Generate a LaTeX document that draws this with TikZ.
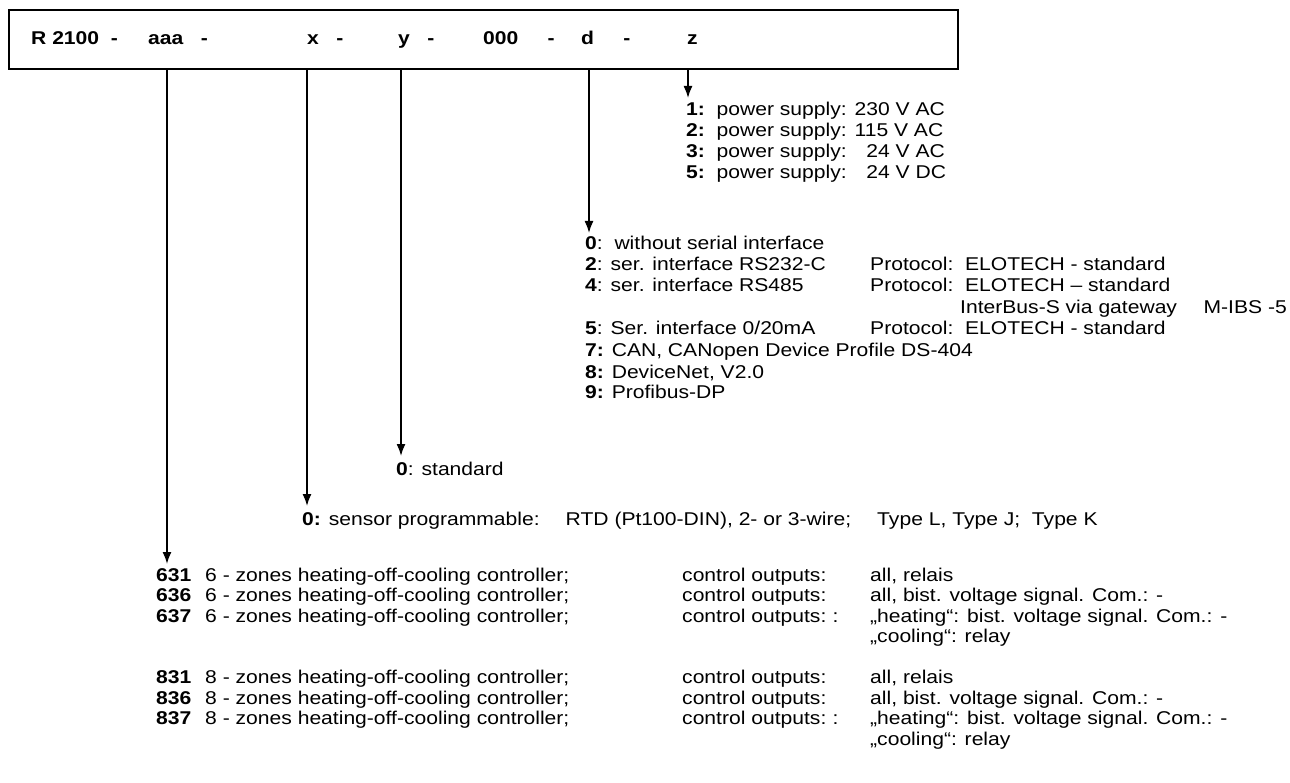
\documentclass[tikz,border=0pt]{standalone}
\usepackage{fontspec}
\setmainfont{Liberation Sans}[FakeStretch=1.14]
\usetikzlibrary{arrows.meta,positioning}
\begin{document}
\begin{tikzpicture}[x=1pt,y=-1pt,font=\fontsize{18.5}{21}\selectfont,
txt/.style={anchor=base west,inner sep=0pt},
code/.style={anchor=base west,inner sep=0pt,font=\fontsize{18.5}{21}\selectfont\bfseries},
arrow/.style={-{Latex[length=12pt,width=9pt]},line width=1.6pt}]
\useasboundingbox (0,0) rectangle (1290,783);
% type code box
\node[draw,line width=2pt,minimum width=949pt,minimum height=59pt,anchor=north west,inner sep=0pt] (codebox) at (8,9) {};
\node[code] (kR) at (31,45) {R 2100\ \ -};
\node[code] (kaaa) at (148,45) {aaa\ \ \ -};
\node[code] (kx) at (307,45) {x\ \ \ -};
\node[code] (ky) at (398,45) {y\ \ \ -};
\node[code] (k000) at (483,45) {000\ \ \ \ \ -};
\node[code] (kd) at (581,45) {d\ \ \ \ \ -};
\node[code] (kz) at (687,45) {z};
% z: power supply
\node[txt] (z1) at (686,116) {\textbf{1:}\ \ power supply: 230 V AC};
\node[txt] (z2) at (686,137) {\textbf{2:}\ \ power supply: 115 V AC};
\node[txt] (z3) at (686,158) {\textbf{3:}\ \ power supply: \phantom{2}24 V AC};
\node[txt] (z5) at (686,179) {\textbf{5:}\ \ power supply: \phantom{2}24 V DC};
% d: serial interface
\node[txt] (d0) at (585,250) {\textbf{0}:\ \ without serial interface};
\node[txt] (d2) at (585,271) {\textbf{2}: ser. interface RS232-C};
\node[txt] (d4) at (585,292) {\textbf{4}: ser. interface RS485};
\node[txt] (d5) at (585,335) {\textbf{5}: Ser. interface 0/20mA};
\node[txt] (d7) at (585,356) {\textbf{7:} CAN, CANopen Device Profile DS-404};
\node[txt] (d8) at (585,378) {\textbf{8:} DeviceNet, V2.0};
\node[txt] (d9) at (585,399) {\textbf{9:} Profibus-DP};
\node[txt] (p2) at (870,271) {Protocol:\ \ ELOTECH - standard};
\node[txt] (p4) at (870,292) {Protocol:\ \ ELOTECH – standard};
\node[txt] (p4b) at (960,314) {InterBus-S via gateway};
\node[anchor=base east,inner sep=0pt] (mibs) at (1287,314) {M-IBS -5};
\node[txt] (p5) at (870,335) {Protocol:\ \ ELOTECH - standard};
% y and x
\node[txt] (y0) at (396,475) {\textbf{0}: standard};
\node[txt] (x0) at (302,525) {\textbf{0:} sensor programmable:\hspace{26pt}RTD (Pt100-DIN), 2- or 3-wire;\hspace{26pt}Type L, Type J;\ \ Type K};
% aaa: controller types
\foreach \c/\n/\r in {631/6/581,636/6/601.5,637/6/622,831/8/683.5,836/8/704,837/8/724.5}{
  \node[code] (c\c) at (156,\r) {\c};
  \node[txt] (t\c) at (205,\r) {\n\ - zones heating-off-cooling controller;};
  \node[txt] (o\c) at (682,\r) {control outputs:};
}
\node[txt] (v631) at (870,581) {all, relais};
\node[txt] (v636) at (870,601.5) {all, bist. voltage signal. Com.: -};
\node[txt] (s637) at (o637.base east) {\ :};
\node[txt] (v637) at (870,622) {„heating“: bist. voltage signal. Com.: -};
\node[txt] (w637) at (870,642.5) {„cooling“: relay};
\node[txt] (v831) at (870,683.5) {all, relais};
\node[txt] (v836) at (870,704) {all, bist. voltage signal. Com.: -};
\node[txt] (s837) at (o837.base east) {\ :};
\node[txt] (v837) at (870,724.5) {„heating“: bist. voltage signal. Com.: -};
\node[txt] (w837) at (870,745) {„cooling“: relay};
% arrow tips
\coordinate (aaaTip) at (167,564);
\coordinate (xTip) at (307,506);
\coordinate (yTip) at (401,456);
\coordinate (dTip) at (589,233);
\coordinate (zTip) at (688,98);
\foreach \t in {aaaTip,xTip,yTip,dTip,zTip}
  \draw[arrow] (codebox.south -| \t) -- (\t);
\end{tikzpicture}
\end{document}
